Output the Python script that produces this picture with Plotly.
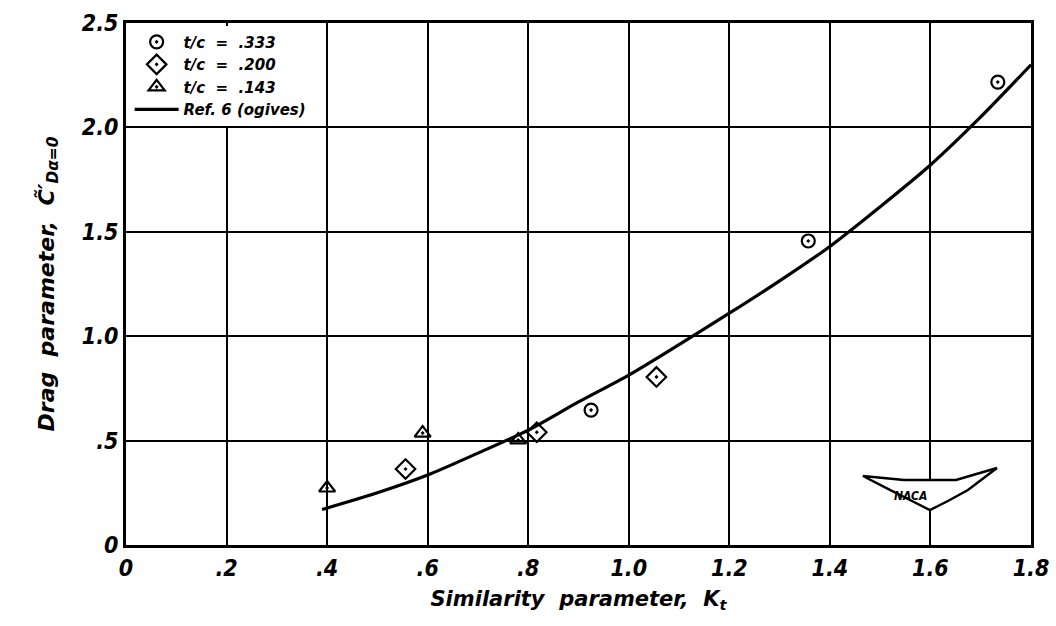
import plotly.graph_objects as go

# Data
k_333 = [0.925, 1.357, 1.734]
cd_333 = [0.646, 1.456, 2.217]

k_200 = [0.556, 0.817, 1.055]
cd_200 = [0.364, 0.540, 0.805]

k_143 = [0.400, 0.590, 0.780]
cd_143 = [0.273, 0.536, 0.503]

ref6_k = [0.39, 0.5, 0.6, 0.7, 0.8, 0.9, 1.0, 1.1, 1.2, 1.3, 1.4, 1.5, 1.6, 1.7, 1.8]
ref6_cd = [0.17, 0.25, 0.335, 0.44, 0.55, 0.685, 0.814, 0.96, 1.11, 1.265, 1.43, 1.62, 1.82, 2.05, 2.30]

x_tickvals = [0, 0.2, 0.4, 0.6, 0.8, 1.0, 1.2, 1.4, 1.6, 1.8]
x_ticktext = ["0", ".2", ".4", ".6", ".8", "1.0", "1.2", "1.4", "1.6", "1.8"]
y_tickvals = [0, 0.5, 1.0, 1.5, 2.0, 2.5]
y_ticktext = ["0", ".5", "1.0", "1.5", "2.0", "2.5"]

FONT_C = "DejaVu Sans Condensed, DejaVu Sans, sans-serif"
FONT = "DejaVu Sans, sans-serif"

L_PX, R_PX, T_PX, B_PX = 126.5, 1031.0, 23.0, 545.0

fig = go.Figure()

fig.add_trace(go.Scatter(
    x=k_333, y=cd_333, mode="markers", name="t/c  =  .333",
    marker=dict(symbol="circle-open-dot", size=13, color="black", line=dict(width=2.2, color="black")),
))
fig.add_trace(go.Scatter(
    x=k_200, y=cd_200, mode="markers", name="t/c  =  .200",
    marker=dict(symbol="diamond-open-dot", size=15, color="black", line=dict(width=2.2, color="black")),
))
fig.add_trace(go.Scatter(
    x=k_143, y=cd_143, mode="markers", name="t/c  =  .143",
    marker=dict(symbol="triangle-up-open-dot", size=14, color="black", line=dict(width=2.2, color="black")),
))
fig.add_trace(go.Scatter(
    x=ref6_k, y=ref6_cd, mode="lines", name="Ref. 6 (ogives)",
    line=dict(color="black", width=3.2, shape="spline", smoothing=0.8),
))


def px_to_paper(px, py):
    return (px - L_PX) / (R_PX - L_PX), (B_PX - py) / (B_PX - T_PX)


# NACA wing logo (decoration)
logo_pts = [(863, 476), (904, 480), (956, 480), (997, 468), (968, 490),
            (948, 501), (930, 510), (912, 501), (890, 490)]
path = ""
for i, (px, py) in enumerate(logo_pts):
    xp, yp = px_to_paper(px, py)
    path += ("M" if i == 0 else "L") + f"{xp:.4f},{yp:.4f} "
path += "Z"
fig.add_shape(type="path", path=path, xref="paper", yref="paper",
              line=dict(color="black", width=2.5), fillcolor="white", layer="above")
lx, ly = px_to_paper(929, 490)
fig.add_annotation(x=lx, y=ly, xref="paper", yref="paper", text="<b>NACA</b>",
                   showarrow=False, yanchor="middle", yshift=-6,
                   font=dict(family=FONT_C, size=12, color="black"))

fig.update_layout(
    width=1056, height=626,
    margin=dict(l=int(L_PX), r=int(1056 - R_PX), t=int(T_PX), b=int(626 - B_PX)),
    paper_bgcolor="white", plot_bgcolor="white",
    font=dict(family=FONT, color="black", style="italic", weight="bold"),
    showlegend=True,
    legend=dict(
        x=0.004, y=0.995, xanchor="left", yanchor="top",
        bgcolor="white", borderwidth=0,
        font=dict(family=FONT, size=15, color="black", style="italic", weight="bold"),
        tracegroupgap=0, itemwidth=44,
    ),
    xaxis=dict(
        range=[0, 1.8], tickvals=x_tickvals, ticktext=x_ticktext,
        showgrid=True, gridcolor="black", gridwidth=2,
        showline=True, linecolor="black", linewidth=3, mirror=True,
        ticks="", zeroline=False, automargin=False,
        tickfont=dict(family=FONT_C, size=23, color="black", style="italic", weight="bold"),
        title=dict(text="Similarity  parameter,  K<sub>t</sub>", standoff=12,
                   font=dict(family=FONT, size=21, color="black", style="italic", weight="bold")),
    ),
    yaxis=dict(
        range=[0, 2.5], tickvals=y_tickvals, ticktext=y_ticktext,
        showgrid=True, gridcolor="black", gridwidth=2,
        showline=True, linecolor="black", linewidth=3, mirror=True,
        ticks="", zeroline=False, automargin=False,
        tickfont=dict(family=FONT_C, size=23, color="black", style="italic", weight="bold"),
        title=dict(text="Drag  parameter,  C\u0303\u2032<sub>D\u03b1=0</sub>", standoff=22,
                   font=dict(family=FONT, size=22, color="black", style="italic", weight="bold")),
    ),
)

fig.write_html("out.html")
